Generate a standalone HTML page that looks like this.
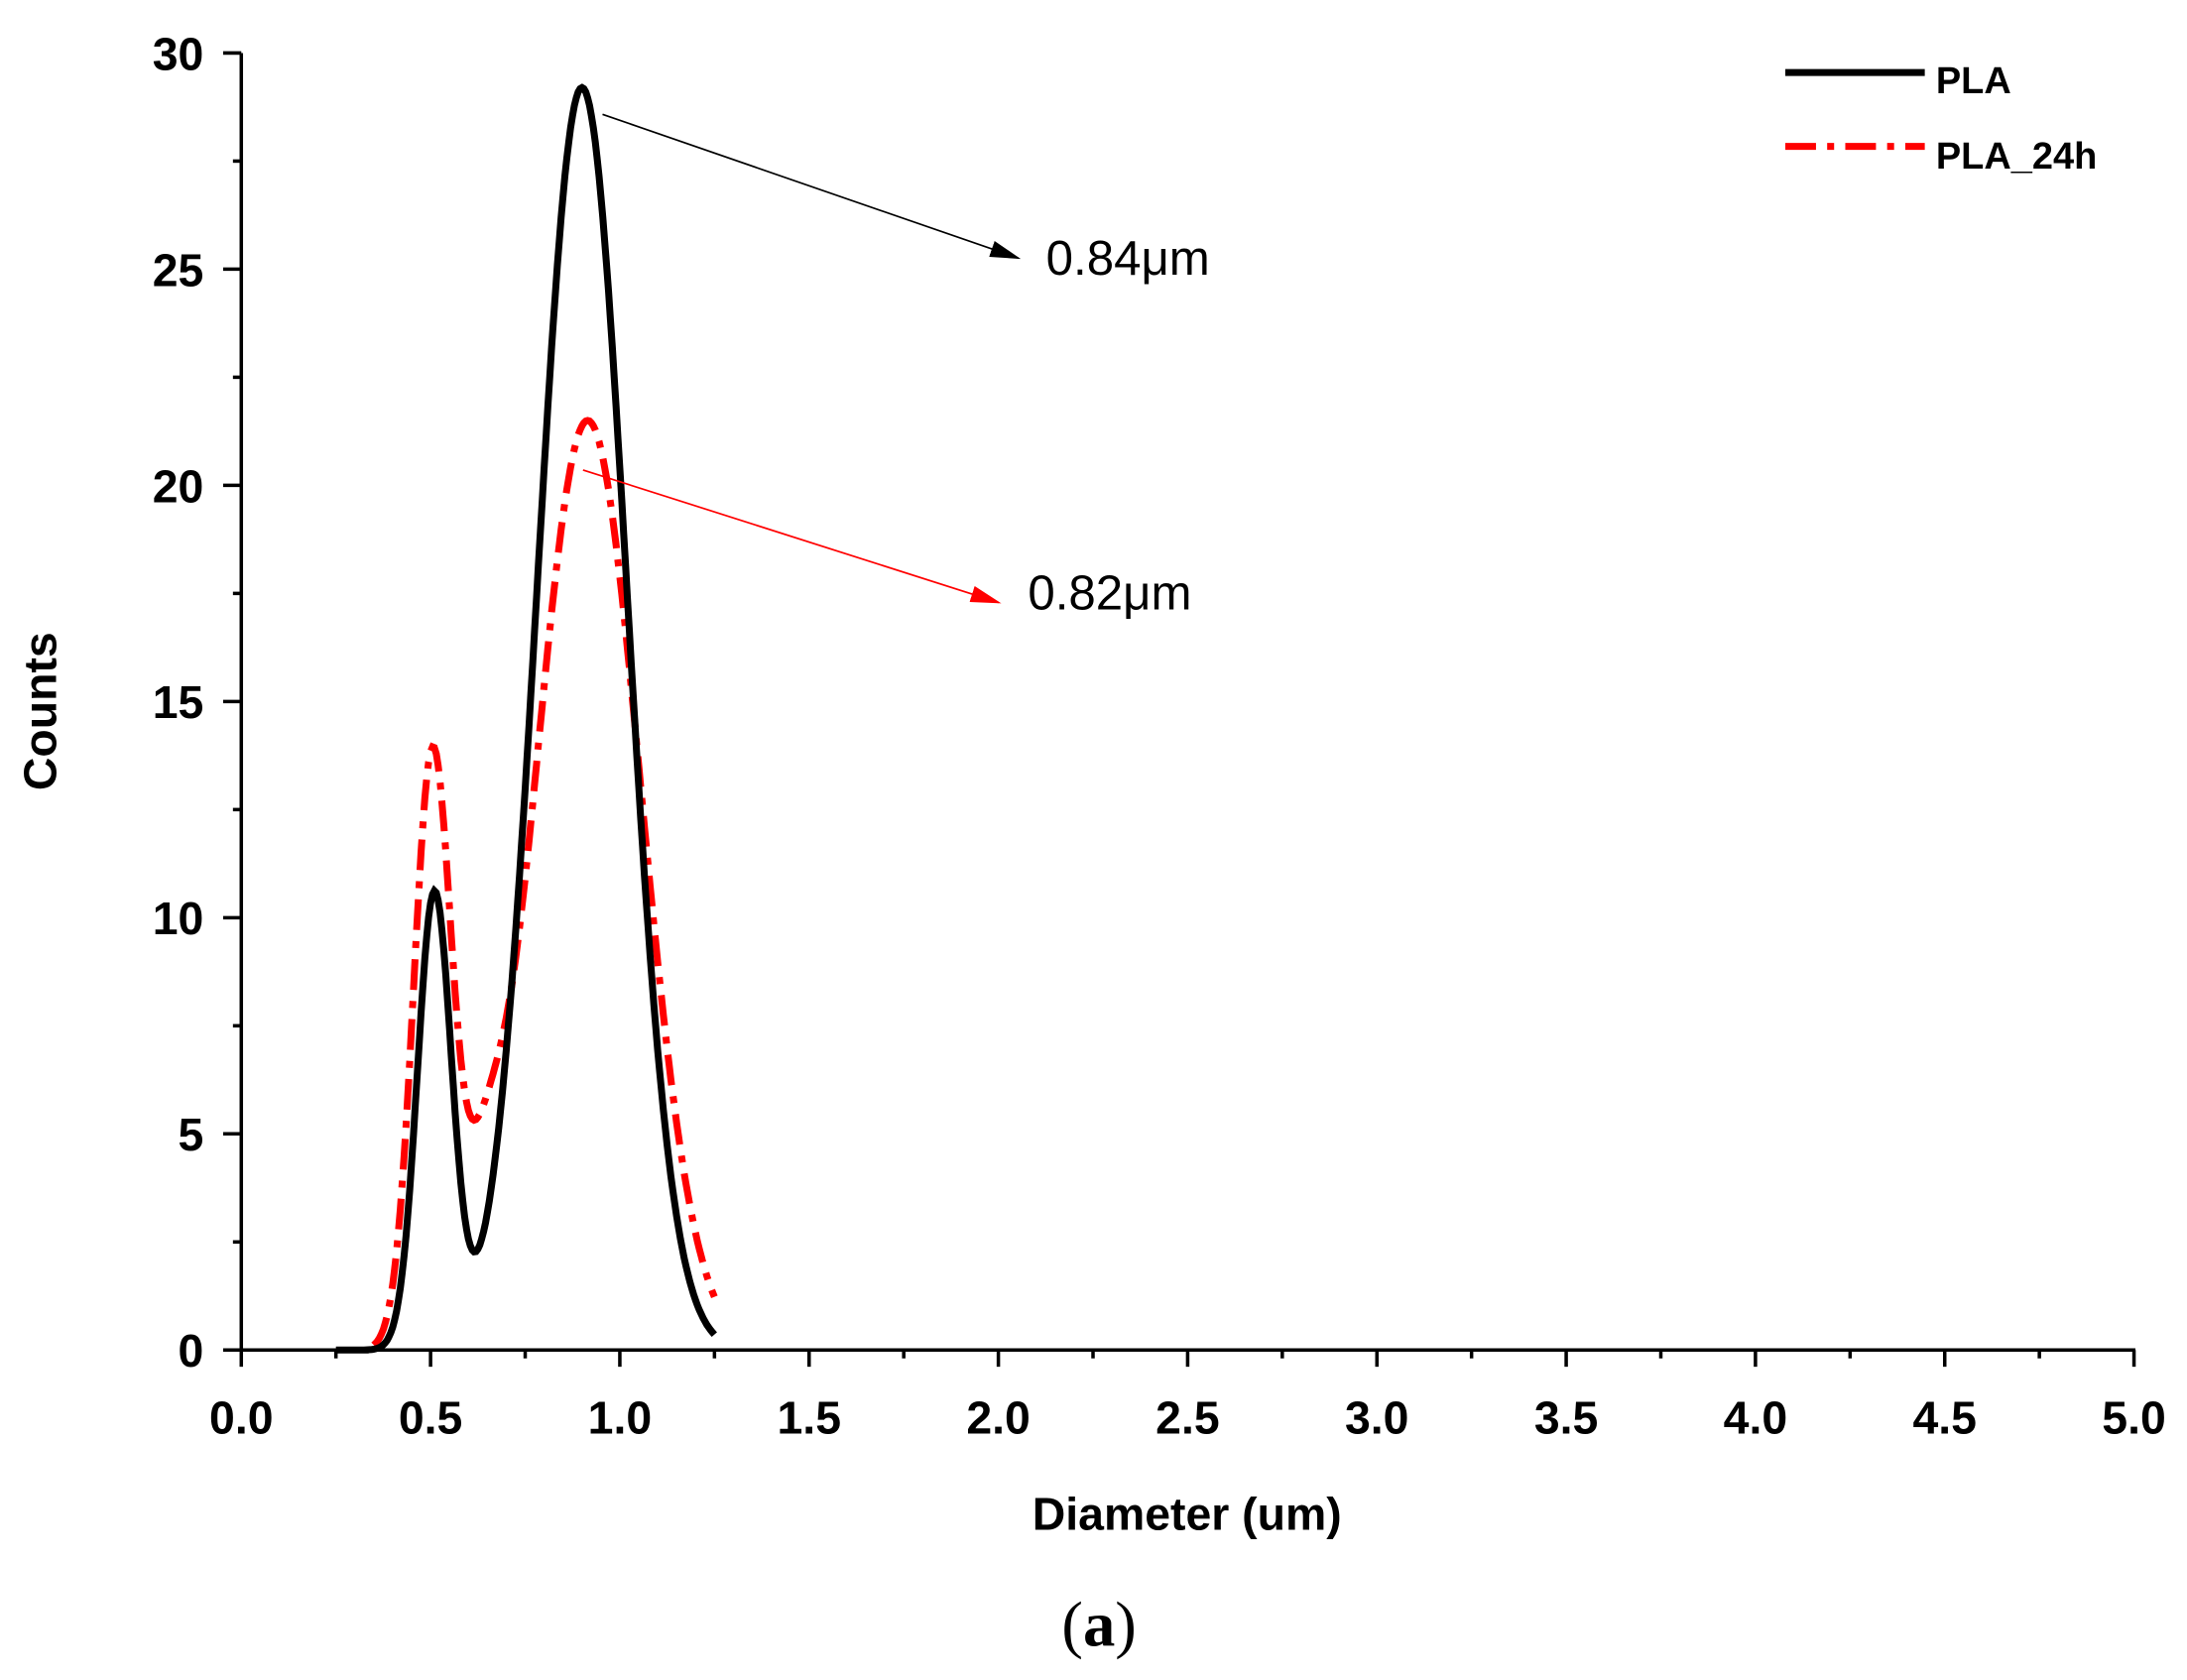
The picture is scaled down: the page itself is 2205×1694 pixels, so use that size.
<!DOCTYPE html>
<html><head><meta charset="utf-8"><style>
html,body{margin:0;padding:0;background:#fff;}
svg{display:block}
text{font-family:"Liberation Sans",Arial,sans-serif;}
</style></head><body>
<svg id="s" width="2205" height="1694" viewBox="0 0 1568 1204.6" preserveAspectRatio="none" xmlns="http://www.w3.org/2000/svg">
<defs>
<marker id="ar" markerWidth="22" markerHeight="12" refX="20" refY="6" orient="auto" markerUnits="userSpaceOnUse"><path d="M0,0 L22,6 L0,12 z" fill="#f00"/></marker>
<marker id="ak" markerWidth="22" markerHeight="12" refX="20" refY="6" orient="auto" markerUnits="userSpaceOnUse"><path d="M0,0 L22,6 L0,12 z" fill="#000"/></marker>
</defs>
<g id="axes" stroke="#000" stroke-width="2.5" fill="none">
<line x1="173" y1="38" x2="173" y2="969"/>
<line x1="172" y1="968" x2="1531" y2="968"/>
</g>
<g id="ticks" stroke="#000" stroke-width="2.5"></g>
<g id="labels" font-weight="bold" font-size="33" fill="#000"></g>
<path id="pr" fill="none" stroke="#f00" stroke-width="5" stroke-dasharray="22,8,5,8"/>
<path id="pb" fill="none" stroke="#000" stroke-width="5"/>
<line x1="432" y1="82" x2="730" y2="185" stroke="#000" stroke-width="1.2" marker-end="url(#ak)"/>
<text x="750" y="197" font-size="35">0.84μm</text>
<line x1="418" y1="337" x2="716" y2="432" stroke="#f00" stroke-width="1.2" marker-end="url(#ar)"/>
<text x="737" y="437" font-size="35">0.82μm</text>
<line x1="1280" y1="52" x2="1380" y2="52" stroke="#000" stroke-width="5"/>
<text x="1388" y="67" font-size="27" font-weight="bold">PLA</text>
<line x1="1280" y1="105" x2="1380" y2="105" stroke="#f00" stroke-width="5" stroke-dasharray="22,8,5,8"/>
<text x="1388" y="121" font-size="27" font-weight="bold">PLA_24h</text>
<text x="851" y="1097" font-size="33" font-weight="bold" text-anchor="middle">Diameter (um)</text>
<text transform="translate(40,510) rotate(-90)" font-size="33" font-weight="bold" text-anchor="middle">Counts</text>
<text x="788" y="1180" font-size="46" text-anchor="middle" style="font-family:'Liberation Serif',serif">(<tspan font-weight="bold">a</tspan>)</text>
</svg>
<script>
var X=function(v){return 173+v*271.4},Y=function(v){return 968-v*31};
var t=document.getElementById('ticks'),l=document.getElementById('labels'),ns="http://www.w3.org/2000/svg";
function ln(a,b,c,d){var e=document.createElementNS(ns,'line');e.setAttribute('x1',a);e.setAttribute('y1',b);e.setAttribute('x2',c);e.setAttribute('y2',d);t.appendChild(e);}
function tx(x,y,s,a){var e=document.createElementNS(ns,'text');e.setAttribute('x',x);e.setAttribute('y',y);e.setAttribute('text-anchor',a);e.textContent=s;l.appendChild(e);}
for(var i=0;i<=20;i++){var v=i*0.25,x=X(v);ln(x,968,x,i%2?974:980);if(i%2==0)tx(x,1028,v.toFixed(1),'middle');}
for(var i=0;i<=12;i++){var v=i*2.5,y=Y(v);ln(173,y,i%2?167:160,y);if(i%2==0)tx(146,y+12,String(v),'end');}
function g(x,a,m,s){return a*Math.exp(-(x-m)*(x-m)/(2*s*s));}
function path(f,x0,x1){var d='';for(var x=x0;x<=x1+1e-9;x+=0.005){d+=(d?'L':'M')+X(x).toFixed(1)+','+Y(f(x)).toFixed(1);}return d;}
document.getElementById('pb').setAttribute('d','M'+X(0.25)+','+Y(0)+'L'+X(0.33)+','+Y(0)+path(function(x){return g(x,10.5,0.51,0.045)+g(x,29.2,0.9,0.118);},0.33,1.25).replace(/^M/,'L'));
document.getElementById('pr').setAttribute('d',path(function(x){return g(x,13.6,0.505,0.05)+g(x,2.2,0.64,0.05)+g(x,21.5,0.915,0.14);},0.35,1.25));
</script>
</body></html>
